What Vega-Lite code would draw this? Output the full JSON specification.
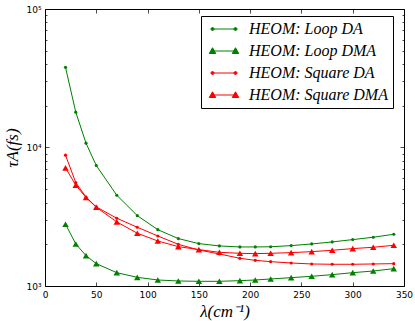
{
  "$schema": "https://vega.github.io/schema/vega-lite/v6.json",
  "width": 359,
  "height": 277,
  "autosize": {"type": "none"},
  "padding": {"left": 45, "top": 9, "right": 11, "bottom": 35},
  "background": "white",
  "config": {
    "view": {"stroke": "black", "strokeWidth": 1},
    "axis": {"grid": false, "domain": false, "labelFont": "DejaVu Sans", "labelFontSize": 9, "labelColor": "black", "tickColor": "black", "tickWidth": 0.7, "titleFont": "Liberation Serif", "titleFontStyle": "italic", "titleFontWeight": "normal", "titleColor": "black", "titleFontSize": 17}
  },
  "data": {"values": [
    {"x":20,"y":37900,"s":"HEOM: Loop DA"},{"x":30,"y":17990,"s":"HEOM: Loop DA"},{"x":40,"y":10740,"s":"HEOM: Loop DA"},{"x":50,"y":7410,"s":"HEOM: Loop DA"},{"x":70,"y":4520,"s":"HEOM: Loop DA"},{"x":90,"y":3220,"s":"HEOM: Loop DA"},{"x":110,"y":2550,"s":"HEOM: Loop DA"},{"x":130,"y":2200,"s":"HEOM: Loop DA"},{"x":150,"y":2023,"s":"HEOM: Loop DA"},{"x":170,"y":1947,"s":"HEOM: Loop DA"},{"x":190,"y":1914,"s":"HEOM: Loop DA"},{"x":205,"y":1914,"s":"HEOM: Loop DA"},{"x":220,"y":1920,"s":"HEOM: Loop DA"},{"x":240,"y":1957,"s":"HEOM: Loop DA"},{"x":260,"y":2012,"s":"HEOM: Loop DA"},{"x":280,"y":2080,"s":"HEOM: Loop DA"},{"x":300,"y":2163,"s":"HEOM: Loop DA"},{"x":320,"y":2249,"s":"HEOM: Loop DA"},{"x":340,"y":2363,"s":"HEOM: Loop DA"},
    {"x":20,"y":2793,"s":"HEOM: Loop DMA"},{"x":30,"y":2012,"s":"HEOM: Loop DMA"},{"x":40,"y":1656,"s":"HEOM: Loop DMA"},{"x":50,"y":1450,"s":"HEOM: Loop DMA"},{"x":70,"y":1248,"s":"HEOM: Loop DMA"},{"x":90,"y":1155,"s":"HEOM: Loop DMA"},{"x":110,"y":1105,"s":"HEOM: Loop DMA"},{"x":130,"y":1087,"s":"HEOM: Loop DMA"},{"x":150,"y":1081,"s":"HEOM: Loop DMA"},{"x":170,"y":1081,"s":"HEOM: Loop DMA"},{"x":190,"y":1093,"s":"HEOM: Loop DMA"},{"x":205,"y":1105,"s":"HEOM: Loop DMA"},{"x":220,"y":1124,"s":"HEOM: Loop DMA"},{"x":240,"y":1149,"s":"HEOM: Loop DMA"},{"x":260,"y":1175,"s":"HEOM: Loop DMA"},{"x":280,"y":1208,"s":"HEOM: Loop DMA"},{"x":300,"y":1248,"s":"HEOM: Loop DMA"},{"x":320,"y":1283,"s":"HEOM: Loop DMA"},{"x":340,"y":1334,"s":"HEOM: Loop DMA"},
    {"x":20,"y":8801,"s":"HEOM: Square DA"},{"x":30,"y":5585,"s":"HEOM: Square DA"},{"x":40,"y":4376,"s":"HEOM: Square DA"},{"x":50,"y":3725,"s":"HEOM: Square DA"},{"x":70,"y":3085,"s":"HEOM: Square DA"},{"x":90,"y":2655,"s":"HEOM: Square DA"},{"x":110,"y":2297,"s":"HEOM: Square DA"},{"x":130,"y":1999,"s":"HEOM: Square DA"},{"x":150,"y":1820,"s":"HEOM: Square DA"},{"x":170,"y":1703,"s":"HEOM: Square DA"},{"x":190,"y":1585,"s":"HEOM: Square DA"},{"x":205,"y":1532,"s":"HEOM: Square DA"},{"x":220,"y":1499,"s":"HEOM: Square DA"},{"x":240,"y":1466,"s":"HEOM: Square DA"},{"x":260,"y":1442,"s":"HEOM: Square DA"},{"x":280,"y":1435,"s":"HEOM: Square DA"},{"x":300,"y":1435,"s":"HEOM: Square DA"},{"x":320,"y":1442,"s":"HEOM: Square DA"},{"x":340,"y":1450,"s":"HEOM: Square DA"},
    {"x":20,"y":7128,"s":"HEOM: Square DMA"},{"x":30,"y":5345,"s":"HEOM: Square DMA"},{"x":40,"y":4351,"s":"HEOM: Square DMA"},{"x":50,"y":3705,"s":"HEOM: Square DMA"},{"x":70,"y":2902,"s":"HEOM: Square DMA"},{"x":90,"y":2404,"s":"HEOM: Square DMA"},{"x":110,"y":2113,"s":"HEOM: Square DMA"},{"x":130,"y":1924,"s":"HEOM: Square DMA"},{"x":150,"y":1831,"s":"HEOM: Square DMA"},{"x":170,"y":1751,"s":"HEOM: Square DMA"},{"x":190,"y":1722,"s":"HEOM: Square DMA"},{"x":205,"y":1713,"s":"HEOM: Square DMA"},{"x":220,"y":1722,"s":"HEOM: Square DMA"},{"x":240,"y":1742,"s":"HEOM: Square DMA"},{"x":260,"y":1770,"s":"HEOM: Square DMA"},{"x":280,"y":1811,"s":"HEOM: Square DMA"},{"x":300,"y":1862,"s":"HEOM: Square DMA"},{"x":320,"y":1904,"s":"HEOM: Square DMA"},{"x":340,"y":1967,"s":"HEOM: Square DMA"}
  ]},
  "resolve": {"axis": {"x": "independent", "y": "independent"}},
  "layer": [
    {
      "mark": {"type": "line", "strokeWidth": 1},
      "encoding": {
        "x": {"field": "x", "type": "quantitative", "scale": {"domain": [0, 350], "nice": false, "zero": false},
          "axis": {"orient": "bottom", "values": [0,50,100,150,200,250,300,350], "tickSize": -4, "labelPadding": 8, "labelFlush": false, "title": "λ(cm⁻¹)", "titlePadding": 4}},
        "y": {"field": "y", "type": "quantitative", "scale": {"type": "log", "domain": [1000, 100000], "nice": false},
          "axis": {"orient": "left", "values": [1000,2000,3000,4000,5000,6000,7000,8000,9000,10000,20000,30000,40000,50000,60000,70000,80000,90000,100000],
            "tickSize": {"condition": {"test": "indexof([1000,10000,100000], datum.value) >= 0", "value": -4}, "value": -2},
            "labelExpr": "datum.value == 1000 ? '10³' : datum.value == 10000 ? '10⁴' : datum.value == 100000 ? '10⁵' : ''",
            "labelOverlap": false, "labelPadding": 8, "labelFlush": false, "title": "τA(fs)", "titlePadding": 4}},
        "color": {"field": "s", "type": "nominal", "scale": {"range": ["#008000", "#008000", "#ff0000", "#ff0000"]},
          "legend": {"orient": "none", "legendX": 156, "legendY": 7, "title": null, "strokeColor": "black", "fillColor": "white", "cornerRadius": 0, "padding": 5,
            "labelFont": "Liberation Serif", "labelFontStyle": "italic", "labelFontSize": 16, "labelColor": "black", "symbolSize": 100, "symbolStrokeWidth": 1, "symbolOffset": 10, "labelOffset": 17, "rowPadding": 6,
            "encode": {"symbols": {"update": {
              "shape": {"signal": "indexof(datum.value, 'DMA') >= 0 ? 'M-2.3,0L2.3,0M-2.3,-0.65L-1.65,0.5L-2.95,0.5ZM2.3,-0.65L2.95,0.5L1.65,0.5Z' : 'M-2.3,0L2.3,0M-2.6,0a0.3,0.3 0 1,0 0.6,0a0.3,0.3 0 1,0 -0.6,0M2,0a0.3,0.3 0 1,0 0.6,0a0.3,0.3 0 1,0 -0.6,0'"},
              "fill": {"signal": "scale('color', datum.value)"},
              "stroke": {"signal": "scale('color', datum.value)"},
              "opacity": {"value": 1}
            }}}}}
      }
    },
    {
      "mark": {"type": "point", "filled": true, "opacity": 1},
      "encoding": {
        "x": {"field": "x", "type": "quantitative",
          "axis": {"orient": "top", "values": [0,50,100,150,200,250,300,350], "tickSize": -4, "labels": false, "title": null}},
        "y": {"field": "y", "type": "quantitative",
          "axis": {"orient": "right", "values": [1000,2000,3000,4000,5000,6000,7000,8000,9000,10000,20000,30000,40000,50000,60000,70000,80000,90000,100000],
            "tickSize": {"condition": {"test": "indexof([1000,10000,100000], datum.value) >= 0", "value": -4}, "value": -2},
            "labels": false, "title": null}},
        "color": {"field": "s", "type": "nominal"},
        "shape": {"condition": {"test": "indexof(datum.s, 'DMA') >= 0", "value": "triangle-up"}, "value": "circle"},
        "size": {"condition": {"test": "indexof(datum.s, 'DMA') >= 0", "value": 42}, "value": 10}
      }
    }
  ]
}
